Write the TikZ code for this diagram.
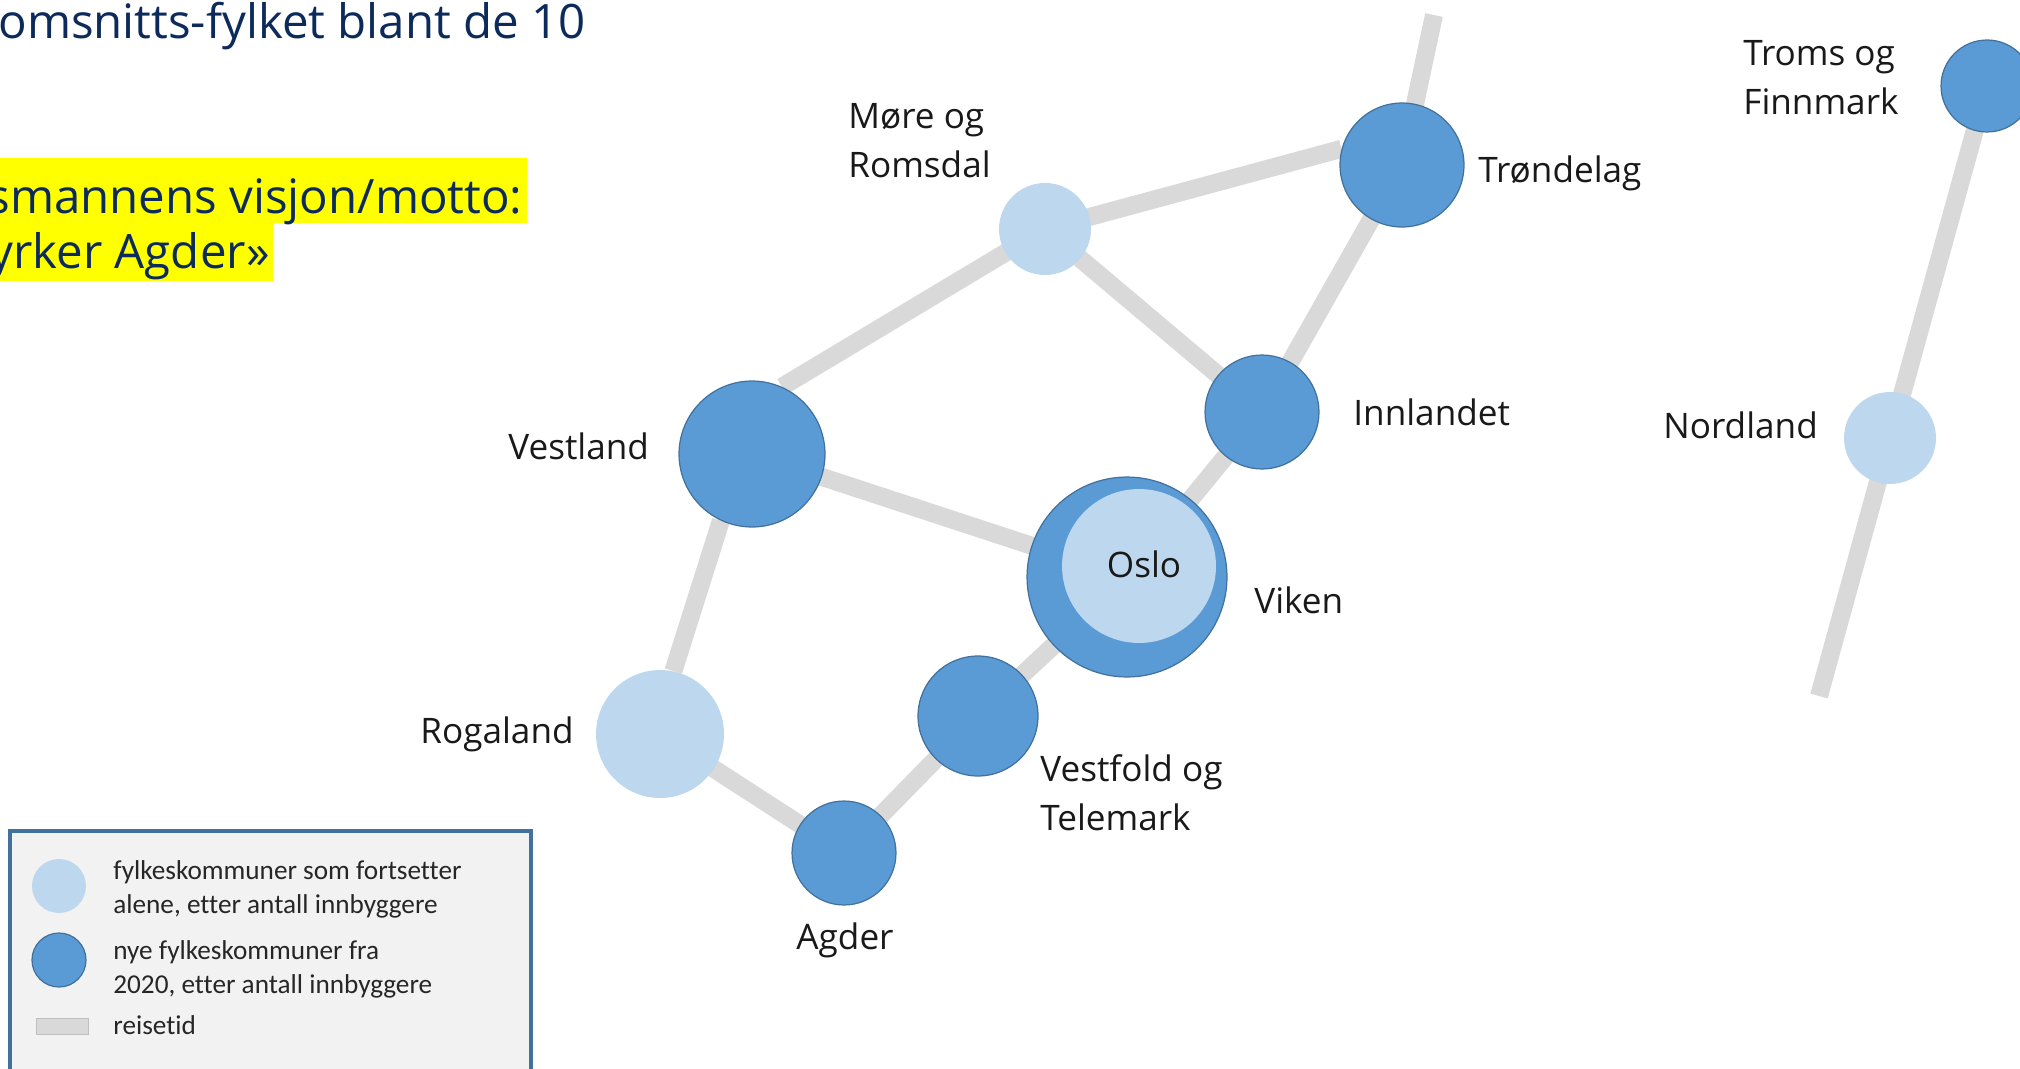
\documentclass[tikz,border=0pt]{standalone}
\usepackage{fontspec}
\setmainfont{Open Sans}
\newfontfamily\keyfont[Ligatures=NoCommon]{Carlito}
\usetikzlibrary{backgrounds}
\definecolor{newblue}{HTML}{5B9BD5}
\definecolor{newedge}{HTML}{41719C}
\definecolor{oldblue}{HTML}{BDD7EE}
\definecolor{roadgray}{HTML}{D9D9D9}
\definecolor{titleblue}{HTML}{0C2B5B}
\definecolor{boxfill}{HTML}{F2F2F2}
\definecolor{markyellow}{HTML}{FFFF00}
\tikzset{
  county/.style={circle,inner sep=0pt,minimum size=#1*0.04cm},
  newcounty/.style={county=#1,fill=newblue,draw=newedge,line width=0.7pt},
  oldcounty/.style={county=#1,fill=oldblue},
  road/.style={roadgray,line width=0.36cm},
  cname/.style={font=\fontsize{20}{27.8}\selectfont,text=black!90,align=left,inner sep=0pt,anchor=west},
  title/.style={font=\fontsize{27}{36}\selectfont,text=titleblue,inner sep=0pt},
  keytext/.style={font=\keyfont\fontsize{15.5}{19.3}\selectfont,text=black!85,align=left,inner sep=0pt,anchor=west},
}
\begin{document}
\begin{tikzpicture}[x=0.02cm,y=-0.02cm]
  \useasboundingbox (0,0) rectangle (2020,1068);
  \clip (0,0) rectangle (2020,1068);
  % heading, cut at the left edge
  \node[title,anchor=base west] (head) at (-2,39) {omsnitts-fylket blant de 10};
  \fill[markyellow] (0,158) rectangle (527,223);
  \fill[markyellow] (0,223) rectangle (273,281);
  \node[title,anchor=base east] (motto1) at (523,213) {smannens visjon/motto:};
  \node[title,anchor=base east] (motto2) at (270,268) {yrker Agder»};

  % counties
  \node[newcounty=62] (trond) at (1402,165) {};
  \node[oldcounty=46] (more) at (1045,229) {};
  \node[newcounty=73] (vestl) at (752,454) {};
  \node[newcounty=57] (innl) at (1262,412) {};
  \node[newcounty=100] (viken) at (1127,577) {};
  \node[oldcounty=77] (oslo) at (1139,566) {};
  \node[newcounty=60] (vtele) at (978,716) {};
  \node[newcounty=52] (agder) at (844,853) {};
  \node[oldcounty=64] (rogal) at (660,734) {};
  \node[oldcounty=46] (nordl) at (1890,438) {};
  \node[newcounty=46] (troms) at (1987,86) {};
  \coordinate (northend) at (1434,15);
  \coordinate (southend) at (1819,696);

  % travel time
  \begin{pgfonlayer}{background}
    \draw[road] (trond.center) -- (northend);
    \draw[road] (trond.165) -- (more.center);
    \draw[road] (trond.center) -- (innl.center);
    \draw[road] (more.center) -- (vestl.66);
    \draw[road] (more.center) -- (innl.center);
    \draw[road] (innl.center) -- (viken.center);
    \draw[road] (vestl.center) -- (viken.center);
    \draw[road] (vestl.245) -- (rogal.78);
    \draw[road] (rogal.center) -- (agder.center);
    \draw[road] (agder.center) -- (vtele.center);
    \draw[road] (vtele.center) -- (viken.center);
    \draw[road] (troms.center) -- (nordl.center);
    \draw[road] (nordl.center) -- (southend);
  \end{pgfonlayer}

  % names
  \node[cname,anchor=center] (osloname) at (1144,564) {Oslo};
  \node[cname] (morename) at (848,141) {Møre og\\Romsdal};
  \node[cname] (trondname) at (1478,173) {Trøndelag};
  \node[cname] (tromsname) at (1743,78) {Troms og\\Finnmark};
  \node[cname] (innlname) at (1353,412) {Innlandet};
  \node[cname] (nordlname) at (1663,425) {Nordland};
  \node[cname] (vestlname) at (508,446) {Vestland};
  \node[cname] (vikenname) at (1254,600) {Viken};
  \node[cname] (rogalname) at (420,734) {Rogaland};
  \node[cname] (vtelename) at (1040,793) {Vestfold og\\Telemark};
  \node[cname,anchor=center] (agdername) at (845,940) {Agder};

  % legend
  \draw[newedge,line width=0.08cm,fill=boxfill] (10,831) rectangle (531,1100);
  \node[oldcounty=27] (keyold) at (59,886) {};
  \node[newcounty=27] (keynew) at (59,960) {};
  \node[fill=roadgray,draw=black!25,line width=0.4pt,inner sep=0pt,
        minimum width=52*0.02cm,minimum height=16*0.02cm] (keyroad) at (62,1026) {};
  \node[keytext] (keyoldtxt) at (113,889) {fylkeskommuner som fortsetter\\alene, etter antall innbyggere};
  \node[keytext] (keynewtxt) at (113,969) {nye fylkeskommuner fra\\2020, etter antall innbyggere};
  \node[keytext] (keyroadtxt) at (113,1025) {reisetid};
\end{tikzpicture}
\end{document}
